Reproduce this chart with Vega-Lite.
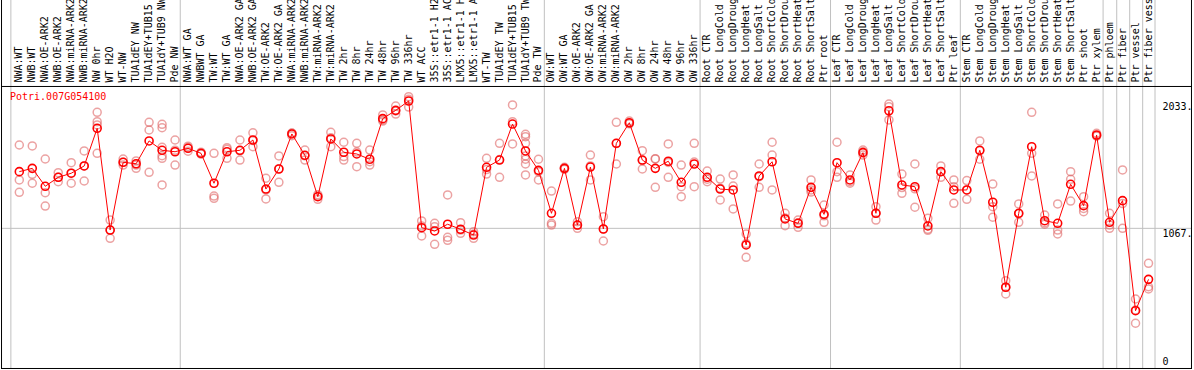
{
"$schema":"https://vega.github.io/schema/vega-lite/v6.json",
"width":1191,"height":369,
"padding":{"left":1,"top":0,"right":2,"bottom":1},
"autosize":{"type":"none"},
"background":"white",
"view":{"stroke":null},
"config":{"font":"DejaVu Sans Mono"},
"datasets":{
"means":[
{"c":1,"n":"NWA:WT","m":1497},{"c":2,"n":"NWB:WT","m":1522},{"c":3,"n":"NWA:OE-ARK2","m":1386},{"c":4,"n":"NWB:OE-ARK2","m":1454},{"c":5,"n":"NWA:miRNA-ARK2","m":1485},{"c":6,"n":"NWB:miRNA-ARK2","m":1540},{"c":7,"n":"NW 0hr","m":1826},{"c":8,"n":"WT H2O","m":1054},{"c":9,"n":"WT-NW","m":1568},{"c":10,"n":"TUA1dEY NW","m":1557},{"c":11,"n":"TUA1dEY+TUB15","m":1730},{"c":12,"n":"TUA1dY+TUB9 NW","m":1659},{"c":13,"n":"Pde NW","m":1648},
{"c":14,"n":"NWA:WT GA","m":1674},{"c":15,"n":"NWBWT GA","m":1636},{"c":16,"n":"TW:WT","m":1409},{"c":17,"n":"TW:WT GA","m":1648},{"c":18,"n":"NWA:OE-ARK2 GA","m":1659},{"c":19,"n":"NWB:OE-ARK2 GA","m":1737},{"c":20,"n":"TW:OE-ARK2","m":1365},{"c":21,"n":"TW:OE-ARK2 GA","m":1517},{"c":22,"n":"NWA:miRNA-ARK2","m":1783},{"c":23,"n":"NWB:miRNA-ARK2","m":1621},{"c":24,"n":"TW:miRNA-ARK2","m":1307},{"c":25,"n":"TW:miRNA-ARK2","m":1745},{"c":26,"n":"TW 2hr","m":1644},{"c":27,"n":"TW 8hr","m":1631},{"c":28,"n":"TW 24hr","m":1591},{"c":29,"n":"TW 48hr","m":1899},{"c":30,"n":"TW 96hr","m":1962},{"c":31,"n":"TW 336hr","m":2033},{"c":32,"n":"WT ACC","m":1072},{"c":33,"n":"35S::etr1-1 H2","m":1047},{"c":34,"n":"35S::etr1-1 AC","m":1098},{"c":35,"n":"LMX5::etr1-1 H","m":1060},{"c":36,"n":"LMX5::etr1-1 A","m":1016},{"c":37,"n":"WT-TW","m":1530},{"c":38,"n":"TUA1dEY TW","m":1585},{"c":39,"n":"TUA1dEY+TUB15","m":1858},{"c":40,"n":"TUA1dY+TUB9 TW","m":1654},{"c":41,"n":"Pde TW","m":1507},
{"c":42,"n":"OW:WT","m":1181},{"c":43,"n":"OW:WT GA","m":1522},{"c":44,"n":"OW:OE-ARK2","m":1092},{"c":45,"n":"OW:OE-ARK2 GA","m":1532},{"c":46,"n":"OW:miRNA-ARK2","m":1062},{"c":47,"n":"OW:miRNA-ARK2","m":1712},{"c":48,"n":"OW 2hr","m":1868},{"c":49,"n":"OW 8hr","m":1585},{"c":50,"n":"OW 24hr","m":1522},{"c":51,"n":"OW 48hr","m":1576},{"c":52,"n":"OW 96hr","m":1416},{"c":53,"n":"OW 336hr","m":1555},
{"c":54,"n":"Root CTR","m":1454},{"c":55,"n":"Root LongCold","m":1365},{"c":56,"n":"Root LongDroug","m":1358},{"c":57,"n":"Root LongHeat","m":941},{"c":58,"n":"Root LongSalt","m":1464},{"c":59,"n":"Root ShortCold","m":1572},{"c":60,"n":"Root ShortDrou","m":1138},{"c":61,"n":"Root ShortHeat","m":1105},{"c":62,"n":"Root ShortSalt","m":1378},{"c":63,"n":"Ptr root","m":1173},
{"c":64,"n":"Leaf CTR","m":1565},{"c":65,"n":"Leaf LongCold","m":1434},{"c":66,"n":"Leaf LongDroug","m":1641},{"c":67,"n":"Leaf LongHeat","m":1181},{"c":68,"n":"Leaf LongSalt","m":1959},{"c":69,"n":"Leaf ShortCold","m":1396},{"c":70,"n":"Leaf ShortDrou","m":1383},{"c":71,"n":"Leaf ShortHeat","m":1085},{"c":72,"n":"Leaf ShortSalt","m":1497},{"c":73,"n":"Ptr leaf","m":1358},
{"c":74,"n":"Stem CTR","m":1358},{"c":75,"n":"Stem LongCold","m":1659},{"c":76,"n":"Stem LongDroug","m":1265},{"c":77,"n":"Stem LongHeat","m":620},{"c":78,"n":"Stem LongSalt","m":1181},{"c":79,"n":"Stem ShortCold","m":1686},{"c":80,"n":"Stem ShortDrou","m":1125},{"c":81,"n":"Stem ShortHeat","m":1105},{"c":82,"n":"Stem ShortSalt","m":1401},{"c":83,"n":"Ptr shoot","m":1239},{"c":84,"n":"Ptr xylem","m":1775},{"c":85,"n":"Ptr phloem","m":1113},{"c":86,"n":"Ptr fiber","m":1277},{"c":87,"n":"Ptr vessel","m":442},{"c":88,"n":"Ptr fiber vess","m":680}
],
"reps":[
{"c":1,"v":1699},{"c":1,"v":1434},{"c":1,"v":1340},{"c":2,"v":1692},{"c":2,"v":1477},{"c":2,"v":1409},{"c":3,"v":1593},{"c":3,"v":1337},{"c":3,"v":1236},{"c":4,"v":1489},{"c":4,"v":1421},{"c":4,"v":1454},{"c":5,"v":1565},{"c":5,"v":1485},{"c":5,"v":1409},{"c":6,"v":1654},{"c":6,"v":1540},{"c":6,"v":1426},{"c":7,"v":1947},{"c":7,"v":1876},{"c":7,"v":1851},{"c":7,"v":1636},{"c":8,"v":1130},{"c":8,"v":1054},{"c":8,"v":991},{"c":9,"v":1593},{"c":9,"v":1568},{"c":9,"v":1547},{"c":10,"v":1578},{"c":10,"v":1547},{"c":10,"v":1522},{"c":11,"v":1871},{"c":11,"v":1813},{"c":11,"v":1492},{"c":12,"v":1856},{"c":12,"v":1830},{"c":12,"v":1682},{"c":12,"v":1618},{"c":12,"v":1598},{"c":12,"v":1396},{"c":13,"v":1737},{"c":13,"v":1547},{"c":13,"v":1660},{"c":14,"v":1690},{"c":14,"v":1680},{"c":14,"v":1652},{"c":15,"v":1645},{"c":15,"v":1630},{"c":15,"v":1633},{"c":16,"v":1636},{"c":16,"v":1312},{"c":16,"v":1295},{"c":17,"v":1679},{"c":17,"v":1598},{"c":17,"v":1666},{"c":18,"v":1737},{"c":18,"v":1585},{"c":18,"v":1655},{"c":19,"v":1792},{"c":19,"v":1686},{"c":19,"v":1733},{"c":20,"v":1447},{"c":20,"v":1290},{"c":20,"v":1358},{"c":21,"v":1616},{"c":21,"v":1416},{"c":21,"v":1519},{"c":22,"v":1788},{"c":22,"v":1770},{"c":22,"v":1790},{"c":23,"v":1661},{"c":23,"v":1585},{"c":23,"v":1617},{"c":24,"v":1312},{"c":24,"v":1287},{"c":24,"v":1322},{"c":25,"v":1795},{"c":25,"v":1686},{"c":25,"v":1754},{"c":26,"v":1720},{"c":26,"v":1611},{"c":26,"v":1585},{"c":27,"v":1712},{"c":27,"v":1535},{"c":27,"v":1646},{"c":28,"v":1661},{"c":28,"v":1573},{"c":28,"v":1547},{"c":29,"v":1927},{"c":29,"v":1889},{"c":29,"v":1881},{"c":30,"v":1995},{"c":30,"v":1934},{"c":30,"v":1957},{"c":31,"v":2066},{"c":31,"v":2046},{"c":31,"v":1987},{"c":32,"v":1123},{"c":32,"v":1009},{"c":32,"v":1084},{"c":33,"v":1105},{"c":33,"v":1079},{"c":33,"v":946},{"c":34,"v":1320},{"c":34,"v":999},{"c":34,"v":976},{"c":35,"v":1110},{"c":35,"v":1054},{"c":35,"v":1029},{"c":36,"v":1042},{"c":36,"v":1024},{"c":36,"v":991},{"c":37,"v":1598},{"c":37,"v":1479},{"c":37,"v":1513},{"c":38,"v":1712},{"c":38,"v":1454},{"c":38,"v":1589},{"c":39,"v":2003},{"c":39,"v":1876},{"c":39,"v":1707},{"c":40,"v":1780},{"c":40,"v":1762},{"c":40,"v":1712},{"c":40,"v":1616},{"c":40,"v":1591},{"c":40,"v":1555},{"c":40,"v":1472},{"c":41,"v":1591},{"c":41,"v":1434},{"c":41,"v":1497},{"c":42,"v":1350},{"c":42,"v":1105},{"c":42,"v":1092},{"c":43,"v":1530},{"c":43,"v":1515},{"c":43,"v":1522},{"c":44,"v":1117},{"c":44,"v":1067},{"c":44,"v":1090},{"c":45,"v":1623},{"c":45,"v":1434},{"c":45,"v":1540},{"c":46,"v":1155},{"c":46,"v":971},{"c":46,"v":1062},{"c":47,"v":1871},{"c":47,"v":1555},{"c":47,"v":1710},{"c":48,"v":1881},{"c":48,"v":1864},{"c":48,"v":1860},{"c":49,"v":1656},{"c":49,"v":1517},{"c":49,"v":1582},{"c":50,"v":1593},{"c":50,"v":1378},{"c":50,"v":1595},{"c":51,"v":1707},{"c":51,"v":1454},{"c":51,"v":1567},{"c":52,"v":1547},{"c":52,"v":1383},{"c":52,"v":1307},{"c":53,"v":1712},{"c":53,"v":1383},{"c":53,"v":1570},{"c":54,"v":1502},{"c":54,"v":1421},{"c":54,"v":1440},{"c":55,"v":1441},{"c":55,"v":1282},{"c":55,"v":1372},{"c":56,"v":1472},{"c":56,"v":1214},{"c":56,"v":1388},{"c":57,"v":1024},{"c":57,"v":847},{"c":57,"v":952},{"c":58,"v":1555},{"c":58,"v":1378},{"c":58,"v":1459},{"c":59,"v":1720},{"c":59,"v":1623},{"c":59,"v":1358},{"c":60,"v":1181},{"c":60,"v":1087},{"c":60,"v":1146},{"c":61,"v":1130},{"c":61,"v":1075},{"c":61,"v":1110},{"c":62,"v":1434},{"c":62,"v":1358},{"c":62,"v":1342},{"c":63,"v":1244},{"c":63,"v":1113},{"c":63,"v":1162},{"c":64,"v":1720},{"c":64,"v":1497},{"c":64,"v":1454},{"c":65,"v":1472},{"c":65,"v":1409},{"c":65,"v":1421},{"c":66,"v":1661},{"c":66,"v":1648},{"c":66,"v":1623},{"c":67,"v":1231},{"c":67,"v":1130},{"c":67,"v":1182},{"c":68,"v":2010},{"c":68,"v":1990},{"c":68,"v":1889},{"c":69,"v":1479},{"c":69,"v":1333},{"c":69,"v":1376},{"c":70,"v":1555},{"c":70,"v":1227},{"c":70,"v":1367},{"c":71,"v":1143},{"c":71,"v":1060},{"c":71,"v":1052},{"c":72,"v":1540},{"c":72,"v":1454},{"c":72,"v":1497},{"c":73,"v":1434},{"c":73,"v":1257},{"c":73,"v":1383},{"c":74,"v":1429},{"c":74,"v":1287},{"c":74,"v":1358},{"c":75,"v":1730},{"c":75,"v":1591},{"c":75,"v":1656},{"c":76,"v":1403},{"c":76,"v":1231},{"c":76,"v":1151},{"c":77,"v":670},{"c":77,"v":569},{"c":77,"v":621},{"c":78,"v":1252},{"c":78,"v":1113},{"c":78,"v":1178},{"c":79,"v":1947},{"c":79,"v":1636},{"c":79,"v":1464},{"c":80,"v":1168},{"c":80,"v":1098},{"c":80,"v":1110},{"c":81,"v":1252},{"c":81,"v":1054},{"c":81,"v":1024},{"c":82,"v":1497},{"c":82,"v":1439},{"c":82,"v":1274},{"c":83,"v":1307},{"c":83,"v":1193},{"c":83,"v":1218},{"c":84,"v":1788},{"c":84,"v":1767},{"c":84,"v":1770},{"c":85,"v":1181},{"c":85,"v":1067},{"c":85,"v":1092},{"c":86,"v":1510},{"c":86,"v":1067},{"c":86,"v":1255},{"c":87,"v":531},{"c":87,"v":347},{"c":87,"v":447},{"c":88,"v":802},{"c":88,"v":624},{"c":88,"v":607}
],
"vgrid":[{"g":0.35},{"g":13.4},{"g":41.45},{"g":53.45},{"g":63.5},{"g":73.5},{"g":84.5},{"g":85.55},{"g":86.55},{"g":87.55},{"g":88.5}],
"ylabTop":[{"v":2033,"t":"2033."},{"v":1067,"t":"1067."}],
"ylabZero":[{"v":0,"t":"0"}]
},
"layer":[
{"data":{"name":"vgrid"},"mark":{"type":"rule","color":"#c0c0c0","strokeWidth":1},
 "encoding":{"x":{"field":"g","type":"quantitative","scale":{"domain":[-0.41,91.35],"nice":false,"zero":false},"axis":null}}},
{"data":{"values":[{"h":1067}]},"mark":{"type":"rule","color":"#c0c0c0","strokeWidth":1},
 "encoding":{"y":{"field":"h","type":"quantitative","scale":{"domain":[0,2799],"nice":false,"zero":false},"axis":null}}},
{"data":{"values":[{"b":-0.37},{"b":91.31}]},"mark":{"type":"rule","color":"black","strokeWidth":1},
 "encoding":{"x":{"field":"b","type":"quantitative"}}},
{"data":{"values":[{"h":3.8},{"h":2143}]},"mark":{"type":"rule","color":"black","strokeWidth":1},
 "encoding":{"y":{"field":"h","type":"quantitative"}}},
{"data":{"name":"reps"},"mark":{"type":"point","shape":"circle","filled":false,"size":64,"strokeWidth":1.5,"color":"#e06666","opacity":0.6},
 "encoding":{"x":{"field":"c","type":"quantitative"},"y":{"field":"v","type":"quantitative"}}},
{"data":{"name":"means"},"mark":{"type":"line","color":"#ff0000","strokeWidth":1},
 "encoding":{"x":{"field":"c","type":"quantitative"},"y":{"field":"m","type":"quantitative"}}},
{"data":{"name":"means"},"mark":{"type":"point","shape":"circle","filled":false,"size":64,"strokeWidth":1.6,"color":"#ff0000","opacity":1},
 "encoding":{"x":{"field":"c","type":"quantitative"},"y":{"field":"m","type":"quantitative"}}},
{"data":{"name":"means"},"mark":{"type":"text","angle":270,"align":"left","baseline":"middle","font":"DejaVu Sans Mono","fontSize":10,"color":"black","clip":true},
 "encoding":{"x":{"field":"c","type":"quantitative"},"y":{"datum":2173,"type":"quantitative"},"text":{"field":"n"}}},
{"data":{"values":[{"id":"Potri.007G054100","px":0.283,"py":2063}]},"mark":{"type":"text","align":"left","baseline":"middle","font":"DejaVu Sans Mono","fontSize":10,"color":"#ff0000"},
 "encoding":{"x":{"field":"px","type":"quantitative"},"y":{"field":"py","type":"quantitative"},"text":{"field":"id"}}},
{"data":{"name":"ylabTop"},"mark":{"type":"text","align":"left","baseline":"top","dy":1,"font":"DejaVu Sans Mono","fontSize":10,"color":"black"},
 "encoding":{"x":{"datum":89.08,"type":"quantitative"},"y":{"field":"v","type":"quantitative"},"text":{"field":"t"}}},
{"data":{"name":"ylabZero"},"mark":{"type":"text","align":"left","baseline":"bottom","dy":-2,"font":"DejaVu Sans Mono","fontSize":10,"color":"black"},
 "encoding":{"x":{"datum":89.08,"type":"quantitative"},"y":{"field":"v","type":"quantitative"},"text":{"field":"t"}}}
]
}
